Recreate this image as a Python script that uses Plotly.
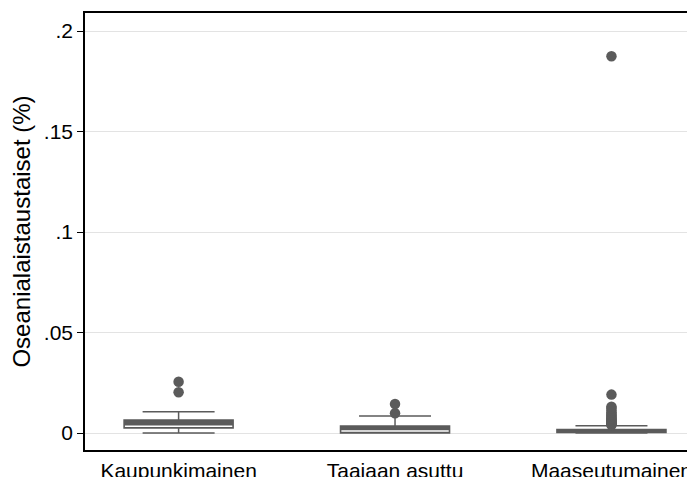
import plotly.graph_objects as go

categories = ["Kaupunkimainen", "Taajaan asuttu", "Maaseutumainen"]
q1 = [0.0025, 0.0000, 0.0003]
median = [0.0033, 0.0010, 0.0003]
q3 = [0.0065, 0.0035, 0.0017]
lower_whisker = [0.0000, 0.0000, 0.0000]
upper_whisker = [0.0106, 0.0085, 0.0036]
outliers = [
    [0.0203, 0.0255],
    [0.0098, 0.0144],
    [0.0040, 0.0043, 0.0046, 0.0050, 0.0053, 0.0057, 0.0061, 0.0065, 0.0070,
     0.0075, 0.0081, 0.0087, 0.0094, 0.0102, 0.0112, 0.0124, 0.0131, 0.0191, 0.1875],
]
y_ticks = [0, 0.05, 0.1, 0.15, 0.2]
y_ticktext = ["0", ".05", ".1", ".15", ".2"]

BOX = "#5b5b5b"
WHISK = "#6a6a6a"
box_w = 0.504

fig = go.Figure()
xs = list(range(len(categories)))
for i in xs:
    fig.add_trace(go.Box(
        x=[i], q1=[q1[i]], median=[median[i]], q3=[q3[i]],
        lowerfence=[lower_whisker[i]], upperfence=[upper_whisker[i]],
        width=box_w, whiskerwidth=0.66,
        fillcolor=BOX, line=dict(color=BOX, width=1.5),
        boxpoints=False, showlegend=False, hoverinfo="skip",
    ))
    if median[i] > q1[i]:
        fig.add_trace(go.Scatter(
            x=[i - box_w / 2 + 0.004, i + box_w / 2 - 0.004], y=[median[i], median[i]],
            mode="lines", line=dict(color="white", width=1.5),
            showlegend=False, hoverinfo="skip",
        ))
    fig.add_trace(go.Scatter(
        x=[i] * len(outliers[i]), y=outliers[i], mode="markers",
        marker=dict(color=BOX, size=10.5, line=dict(width=0)),
        showlegend=False, hoverinfo="skip",
    ))

font = "Liberation Sans, Arial, sans-serif"
fig.update_layout(
    width=687, height=469,
    margin=dict(l=77, r=0, t=5, b=27),
    plot_bgcolor="white", paper_bgcolor="white",
    font=dict(family=font, color="#000000", size=21),
    xaxis=dict(
        range=[-0.4325, 2.386], tickvals=xs, ticktext=categories,
        showgrid=False, zeroline=False, showline=True, mirror=True,
        linecolor="#000000", linewidth=1.5, ticks="", tickfont=dict(size=21),
        automargin=False, ticklabelstandoff=1,
    ),
    yaxis=dict(
        range=[-0.00846, 0.2090], tickvals=y_ticks, ticktext=y_ticktext,
        showgrid=True, gridcolor="#e3e3e3", gridwidth=1.3, zeroline=False,
        showline=True, mirror=False, linecolor="#000000", linewidth=1.5,
        ticks="outside", ticklen=6, tickcolor="#000000", tickwidth=1,
        tickfont=dict(size=21), automargin=False,
        title=dict(text="Oseanialaistaustaiset (%)", font=dict(size=24), standoff=8),
    ),
)
fig.write_html("out.html")
